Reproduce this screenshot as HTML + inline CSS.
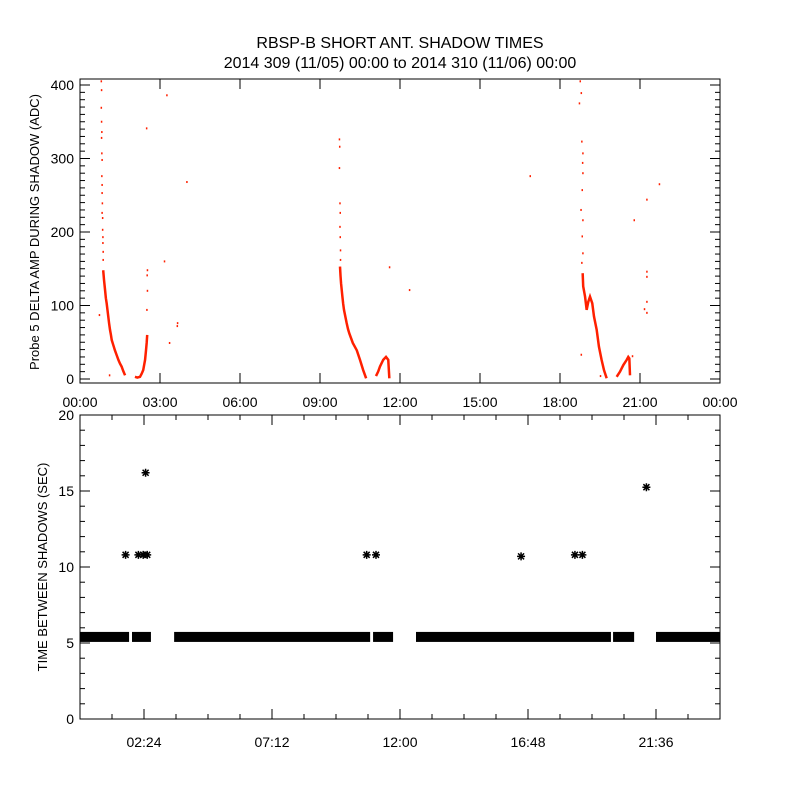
<!DOCTYPE html>
<html><head><meta charset="utf-8"><style>
html,body{margin:0;padding:0;background:#fff}
svg text{font-family:"Liberation Sans",sans-serif;fill:#000}
</style></head><body>
<svg id="chart" width="800" height="800" viewBox="0 0 800 800" xmlns="http://www.w3.org/2000/svg">
<rect width="800" height="800" fill="#fff"/>
<text x="400" y="48" font-size="16" text-anchor="middle">RBSP-B SHORT ANT. SHADOW TIMES</text>
<text x="400" y="68" font-size="16" text-anchor="middle">2014 309 (11/05) 00:00 to 2014 310 (11/06) 00:00</text>
<text transform="translate(39,232) rotate(-90)" font-size="13" text-anchor="middle">Probe 5 DELTA AMP DURING SHADOW (ADC)</text>
<text transform="translate(47,567) rotate(-90)" font-size="13" text-anchor="middle">TIME BETWEEN SHADOWS (SEC)</text>
<g id="topPanel"></g>
<g id="botPanel"></g>
</svg>
<script>
// ---- Top panel data: [hour, ADC]
const ampScatter = [[0.79,405],[0.8,393],[0.79,369],[0.8,350],[0.81,336],[0.8,328],[0.81,307],[0.82,298],[0.81,276],[0.82,264],[0.82,253],[0.83,239],[0.82,226],[0.84,219],[0.84,203],[0.85,193],[0.85,185],[0.86,173],[0.86,162],
 [1.10,5],[0.72,87],[2.52,148],[2.51,141],[2.52,120],[2.5,94],[2.49,341],[3.16,160],[3.25,386],[4.0,268],[3.65,76],[3.64,72],[3.35,49],
 [9.72,326],[9.73,316],[9.72,287],[9.74,239],[9.75,226],[9.74,207],[9.75,193],[9.76,175],[9.76,162],[11.6,152],[12.35,121],[16.875,276],
 [18.75,405],[18.79,389],[18.72,375],[18.81,323],[18.85,307],[18.84,294],[18.85,280],[18.825,257],[18.78,230],[18.85,216],[18.825,194],[18.85,171],[18.81,158],[18.79,33],
 [20.71,31],[20.775,216],[21.25,244],[21.72,265],[21.25,146],[21.25,139],[21.25,105],[21.16,95],[21.25,90],[19.51,4]];
const ampCurve1 = [[0.87,148],[0.9,135],[0.94,121],[0.97,110],[1.0,103],[1.03,94],[1.06,85],[1.09,76],[1.125,67],[1.16,60],[1.19,53],[1.25,46],[1.31,39],[1.37,33],[1.44,26],[1.5,21],[1.56,17],[1.62,11],[1.69,5]];
const ampCurve1b = [[2.06,3],[2.15,2],[2.25,3],[2.31,7],[2.37,12],[2.41,20],[2.44,26],[2.475,39],[2.5,49],[2.52,60]];
const ampCurve2 = [[9.75,153],[9.77,140],[9.79,130],[9.84,112],[9.87,102],[9.9,94],[10.0,76],[10.05,68],[10.1,62],[10.23,49],[10.38,39],[10.5,26],[10.62,12],[10.73,1]];
const ampCurve2b = [[11.1,4],[11.18,10],[11.25,17],[11.37,26],[11.475,30],[11.56,26],[11.6,1]];
const ampCurve3 = [[18.85,144],[18.87,126],[18.94,112],[19.0,94],[19.06,105],[19.125,112],[19.21,103],[19.275,85],[19.375,67],[19.46,44],[19.56,26],[19.65,12],[19.75,1]];
const ampCurve3b = [[20.125,3],[20.25,10],[20.375,19],[20.5,26],[20.56,30],[20.6,28],[20.625,5]];
const topXTicks = ['00:00','03:00','06:00','09:00','12:00','15:00','18:00','21:00','00:00'];
const topYTicks = [0,100,200,300,400];
// ---- Bottom panel data
const bandValue = 5.4;
const bandStarts = [0.0,1.95,3.53,10.99,12.6,19.99,21.6];
const bandEnds   = [1.84,2.66,10.88,11.74,19.91,20.78,24.0];
const outlierHours = [1.71,2.19,2.37,2.52,2.46,10.75,11.1,16.54,18.56,18.84,21.24];
const outlierValues = [10.8,10.8,10.8,10.8,16.2,10.8,10.8,10.7,10.8,10.8,15.25];
const botXTicks = ['02:24','07:12','12:00','16:48','21:36'];
const botYTicks = [0,5,10,15,20];

const NS='http://www.w3.org/2000/svg';
function mk(parent,tag,attrs){const e=document.createElementNS(NS,tag);for(const k in attrs)e.setAttribute(k,attrs[k]);parent.appendChild(e);return e;}
const L=80,R=720;
const xh=h=>L+(R-L)*h/24;
// top axes
const T={top:79,bot:383};
const ty=v=>379-v*0.735;
const topG=document.getElementById('topPanel');
const tf=mk(topG,'rect',{x:L,y:T.top,width:R-L,height:T.bot-T.top,fill:'none',stroke:'#000','stroke-width':1});


topXTicks.forEach((lab,i)=>{const x=xh(i*3);
 mk(topG,'line',{x1:x,x2:x,y1:T.bot,y2:T.bot-10,stroke:'#000'});
 mk(topG,'line',{x1:x,x2:x,y1:T.top,y2:T.top+10,stroke:'#000'});
 const t=mk(topG,'text',{x:x,y:T.bot+24,'font-size':14,'text-anchor':'middle'});t.textContent=lab;
 
 });
for(let v=0;v<=400;v+=10){const y=ty(v);if(y<T.top)continue;const len=v%100===0?10:5;
 mk(topG,'line',{x1:L,x2:L+len,y1:y,y2:y,stroke:'#000'});
 mk(topG,'line',{x1:R,x2:R-len,y1:y,y2:y,stroke:'#000'});}
topYTicks.forEach(v=>{const t=mk(topG,'text',{x:L-6,y:ty(v)+5,'font-size':14,'text-anchor':'end'});t.textContent=v;
 
 });
[ampCurve1,ampCurve1b,ampCurve2,ampCurve2b,ampCurve3,ampCurve3b].forEach(c=>{
 const p=mk(topG,'polyline',{points:c.map(d=>xh(d[0])+','+ty(d[1])).join(' '),fill:'none',stroke:'#ff2000','stroke-width':2.5});
 
 });
ampScatter.forEach(d=>{const r=mk(topG,'rect',{x:xh(d[0])-0.5,y:ty(d[1])-1,width:1.5,height:2,fill:'#ff2000'});
 
 });
// bottom axes
const B={top:415,bot:719};
const by=v=>719-v*15.2;
const botG=document.getElementById('botPanel');
const bf=mk(botG,'rect',{x:L,y:B.top,width:R-L,height:B.bot-B.top,fill:'none',stroke:'#000'});


for(let i=0;i<=20;i++){const x=xh(i*1.2);const len=(i%4===2)?10:5;
 mk(botG,'line',{x1:x,x2:x,y1:B.bot,y2:B.bot-len,stroke:'#000'});
 mk(botG,'line',{x1:x,x2:x,y1:B.top,y2:B.top+len,stroke:'#000'});}
botXTicks.forEach((lab,i)=>{const t=mk(botG,'text',{x:xh(2.4+i*4.8),y:B.bot+28,'font-size':14,'text-anchor':'middle'});t.textContent=lab;
 
 });
for(let v=0;v<=20;v++){const y=by(v);const len=v%5===0?10:5;
 mk(botG,'line',{x1:L,x2:L+len,y1:y,y2:y,stroke:'#000'});
 mk(botG,'line',{x1:R,x2:R-len,y1:y,y2:y,stroke:'#000'});}
botYTicks.forEach(v=>{const t=mk(botG,'text',{x:L-6,y:by(v)+5,'font-size':14,'text-anchor':'end'});t.textContent=v;
 
 });
bandStarts.forEach((s,i)=>{const x1=xh(s),x2=xh(bandEnds[i]);
 const r=mk(botG,'rect',{x:x1,y:by(bandValue)-5,width:x2-x1,height:10,fill:'#000'});
 
 });
function star(g,cx,cy){const s=4;
 mk(g,'path',{d:`M${cx-s},${cy}H${cx+s}M${cx},${cy-s}V${cy+s}M${cx-3},${cy-3}L${cx+3},${cy+3}M${cx-3},${cy+3}L${cx+3},${cy-3}`,stroke:'#000','stroke-width':1.5});}
outlierHours.forEach((h,i)=>{const g=mk(botG,'g',{});
 
 
 star(g,xh(h),by(outlierValues[i]));});
</script>
</body></html>
